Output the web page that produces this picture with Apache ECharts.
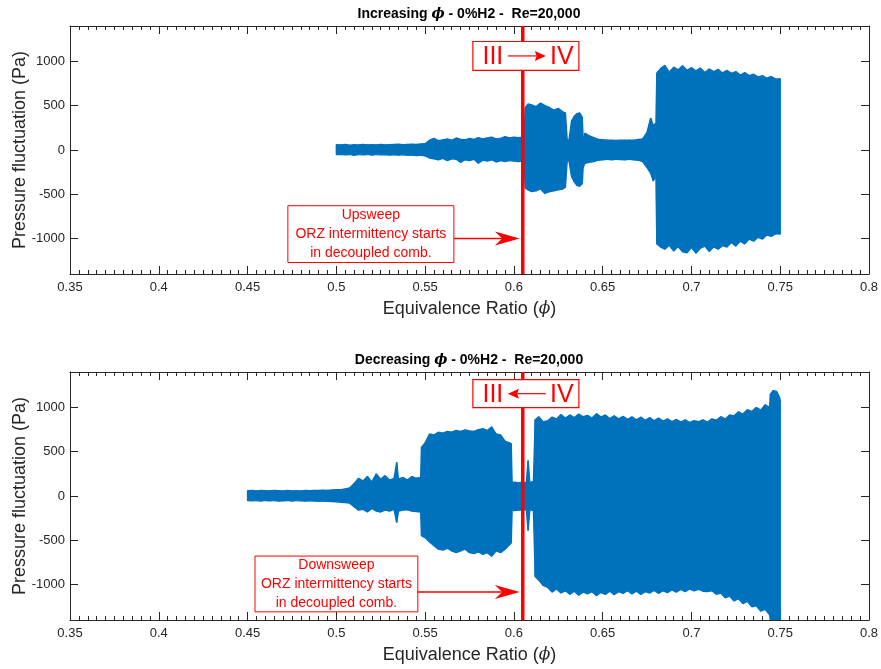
<!DOCTYPE html>
<html><head><meta charset="utf-8">
<script src="https://cdn.jsdelivr.net/npm/echarts@6/dist/echarts.min.js"></script>
<style>html,body{margin:0;padding:0;background:#fff}#c{width:881px;height:669px}</style>
</head><body><div id="c"></div>
<script>
// ---------------- DATA (envelope of the pressure signal) ----------------
const phiUp = [0.500,0.5025,0.505,0.5075,0.510,0.5125,0.515,0.5175,0.520,0.5225,0.525,0.5275,0.530,0.5325,0.535,0.5375,0.540,0.5425,0.545,0.5475,0.550,0.5525,0.555,0.5575,0.560,0.5625,0.565,0.5675,0.570,0.5725,0.575,0.5775,0.580,0.5825,0.585,0.5875,0.590,0.5925,0.595,0.5975,0.600,0.6025,0.605,0.6055,0.6065,0.608,0.610,0.6125,0.615,0.6175,0.620,0.6225,0.625,0.6275,0.629,0.630,0.631,0.6325,0.634,0.6355,0.637,0.6385,0.639,0.640,0.6425,0.645,0.6475,0.650,0.6525,0.655,0.6575,0.660,0.6625,0.665,0.6675,0.670,0.6725,0.675,0.677,0.6785,0.680,0.6805,0.683,0.685,0.6875,0.690,0.6925,0.695,0.6975,0.700,0.7025,0.705,0.7075,0.710,0.7125,0.715,0.7175,0.720,0.7225,0.725,0.7275,0.730,0.7325,0.735,0.7375,0.740,0.7425,0.745,0.7475,0.750];
const upHigh = [60,58,62,55,60,57,62,58,60,56,63,58,60,62,65,60,64,66,62,68,70,110,130,105,115,125,110,135,120,115,130,120,140,125,135,145,125,130,150,135,145,140,145,140,480,520,510,490,530,500,480,450,470,430,420,120,110,330,380,410,420,370,120,190,160,140,120,115,112,110,108,112,110,112,110,118,125,200,360,280,300,870,925,955,880,935,905,950,900,930,895,925,875,915,885,910,870,900,865,885,845,875,840,855,825,840,810,830,800,805];
const upLow  = [-50,-52,-55,-50,-60,-52,-55,-50,-58,-52,-55,-53,-56,-55,-58,-55,-60,-58,-62,-60,-65,-90,-100,-110,-95,-120,-100,-105,-140,-110,-120,-105,-150,-115,-125,-110,-135,-120,-130,-120,-125,-130,-125,-120,-430,-450,-470,-460,-440,-490,-470,-460,-450,-440,-420,-130,-120,-300,-360,-400,-410,-380,-200,-150,-140,-130,-115,-110,-105,-110,-105,-108,-110,-105,-112,-115,-130,-200,-260,-350,-300,-1060,-1100,-1120,-1075,-1140,-1090,-1150,-1160,-1100,-1165,-1110,-1085,-1145,-1095,-1120,-1080,-1095,-1045,-1085,-1030,-1060,-1005,-1030,-985,-1005,-960,-975,-945,-950];

const phiDown = [0.450,0.4525,0.455,0.4575,0.460,0.4625,0.465,0.4675,0.470,0.4725,0.475,0.4775,0.480,0.4825,0.485,0.4875,0.490,0.4925,0.495,0.4975,0.500,0.5025,0.505,0.5075,0.510,0.5125,0.515,0.5175,0.520,0.5225,0.525,0.5275,0.530,0.5325,0.534,0.535,0.5375,0.540,0.5425,0.545,0.5475,0.548,0.550,0.5525,0.555,0.5575,0.560,0.5625,0.565,0.5675,0.570,0.5725,0.575,0.5775,0.580,0.5825,0.585,0.5875,0.590,0.5925,0.595,0.5975,0.5985,0.599,0.600,0.6025,0.605,0.607,0.608,0.609,0.610,0.611,0.612,0.614,0.6165,0.619,0.6215,0.624,0.6265,0.629,0.6315,0.634,0.6365,0.639,0.6415,0.644,0.6465,0.649,0.6515,0.654,0.6565,0.659,0.6615,0.664,0.6665,0.669,0.6715,0.674,0.6765,0.679,0.6815,0.684,0.6865,0.689,0.6915,0.694,0.6965,0.699,0.7015,0.704,0.7065,0.709,0.7115,0.714,0.7165,0.719,0.7215,0.724,0.7265,0.729,0.7315,0.734,0.7365,0.739,0.7415,0.744,0.7445,0.746,0.748,0.7495,0.750];
const dnHigh = [60,62,58,63,60,58,62,60,56,62,58,60,57,62,60,64,62,66,64,68,70,72,80,90,140,200,170,220,160,250,190,230,180,200,380,190,210,180,220,200,210,550,600,700,690,720,710,730,720,740,730,745,735,730,750,760,740,780,700,690,620,600,590,150,155,150,155,150,400,150,160,160,860,895,835,850,890,870,920,880,915,885,925,895,910,880,930,890,915,875,905,870,900,865,895,860,890,855,885,850,880,845,870,840,865,835,860,830,850,840,860,835,870,855,895,870,915,905,950,925,975,955,1000,970,1030,1000,1150,1190,1180,1120,1080];
const dnLow  = [-50,-55,-52,-56,-50,-55,-52,-58,-54,-50,-56,-52,-55,-58,-54,-56,-60,-58,-60,-62,-65,-70,-75,-80,-120,-160,-150,-180,-140,-170,-180,-160,-170,-150,-300,-170,-160,-155,-170,-175,-180,-450,-470,-520,-560,-600,-610,-590,-620,-640,-620,-600,-640,-650,-630,-660,-640,-680,-620,-640,-600,-550,-530,-160,-165,-160,-160,-155,-390,-155,-160,-165,-910,-950,-1010,-1030,-1085,-1050,-1095,-1070,-1110,-1075,-1120,-1085,-1105,-1080,-1125,-1090,-1110,-1075,-1115,-1080,-1100,-1070,-1105,-1075,-1110,-1080,-1095,-1065,-1100,-1070,-1090,-1060,-1085,-1055,-1080,-1050,-1070,-1055,-1075,-1080,-1070,-1110,-1095,-1150,-1130,-1185,-1160,-1215,-1190,-1250,-1240,-1300,-1280,-1340,-1400,-1400,-1400,-1400,-1400];

const xTickValues = [0.35,0.4,0.45,0.5,0.55,0.6,0.65,0.7,0.75,0.8];
const yTickValues = [-1000,-500,0,500,1000];
const transitionPhi = 0.605;
const titles = ['Increasing', 'Decreasing'];
const sweepNames = ['Upsweep', 'Downsweep'];

// ---------------- STYLE ----------------
const FONT = '"Liberation Sans", Arial, Helvetica, sans-serif';
const AX = '#262626';
const BLUE = '#0072BD';
const RED = '#FF0000';

const grids = [
  {left: 70, right: 12, top: 26, height: 248, outerBoundsMode: 'none', containLabel: false},
  {left: 70, right: 12, top: 372, height: 248, outerBoundsMode: 'none', containLabel: false}
];

function xAxes(gi) {
  const common = {
    type: 'value', gridIndex: gi, min: 0.35, max: 0.8, interval: 0.05,
    axisLine: {show: true, onZero: false, lineStyle: {color: AX, width: 1}},
    axisTick: {show: true, inside: true, length: 8, lineStyle: {color: AX}},
    minorTick: {show: true, splitNumber: 10, length: 4, lineStyle: {color: AX}},
    splitLine: {show: false}, minorSplitLine: {show: false}
  };
  return [
    Object.assign({}, common, {
      position: 'bottom',
      axisLabel: {show: true, margin: 7, color: AX, fontFamily: FONT, fontSize: 13,
        customValues: xTickValues, formatter: v => String(+(+v).toFixed(2))},
      name: '{a|Equivalence Ratio (}{i|ϕ}{a|)}', nameLocation: 'middle', nameGap: 26, nameMoveOverlap: false,
      nameTextStyle: {rich: {
        a: {fontFamily: FONT, fontSize: 18, color: AX},
        i: {fontFamily: '"DejaVu Serif", serif', fontStyle: 'italic', fontSize: 17, color: AX}
      }}
    }),
    Object.assign({}, common, {position: 'top', axisLabel: {show: false}})
  ];
}
function yAxes(gi) {
  const common = {
    type: 'value', gridIndex: gi, min: -1400, max: 1400,
    axisLine: {show: true, onZero: false, lineStyle: {color: AX, width: 1}},
    axisTick: {show: true, inside: true, length: 8, lineStyle: {color: AX}, customValues: yTickValues},
    splitLine: {show: false}
  };
  return [
    Object.assign({}, common, {
      position: 'left',
      axisLabel: {show: true, margin: 5, color: AX, fontFamily: FONT, fontSize: 13, customValues: yTickValues,
        formatter: v => String(v)},
      name: 'Pressure fluctuation (Pa)', nameLocation: 'middle', nameGap: 41, nameMoveOverlap: false,
      nameTextStyle: {fontFamily: FONT, fontSize: 18, color: AX}
    }),
    Object.assign({}, common, {position: 'right', axisLabel: {show: false}})
  ];
}

// Envelope drawn as a filled band: one quadrilateral between consecutive samples
function envelopeSeries(gi, phi, hi, lo) {
  const axIdx = gi * 2;
  return {
    type: 'custom', xAxisIndex: axIdx, yAxisIndex: axIdx, silent: true, z: 2, clip: true,
    data: phi.map((x, i) => [x, hi[i], lo[i]]),
    encode: {x: 0, y: [1, 2]},
    renderItem: function (params, api) {
      const i = params.dataIndex;
      if (i >= phi.length - 1) return null;
      const a1 = api.coord([phi[i], hi[i]]), a2 = api.coord([phi[i + 1], hi[i + 1]]);
      const b2 = api.coord([phi[i + 1], lo[i + 1]]), b1 = api.coord([phi[i], lo[i]]);
      return {type: 'polygon', shape: {points: [a1, a2, b2, b1]},
        style: {fill: BLUE, stroke: BLUE, lineWidth: 1.4, lineJoin: 'bevel'}};
    }
  };
}
function boundarySeries(gi) {
  const axIdx = gi * 2;
  return {type: 'line', xAxisIndex: axIdx, yAxisIndex: axIdx, symbol: 'none', silent: true, z: 5,
    data: [[transitionPhi, -1400], [transitionPhi, 1400]], lineStyle: {color: RED, width: 3.5}};
}

const titleRich = {
  b: {fontFamily: FONT, fontSize: 14, fontWeight: 'bold', color: '#000'},
  i: {fontFamily: '"DejaVu Serif", serif', fontStyle: 'italic', fontSize: 14, color: '#000'}
};

const chart = echarts.init(document.getElementById('c'), null, {renderer: 'canvas'});
chart.setOption({
  animation: false,
  backgroundColor: '#fff',
  title: [0, 1].map(gi => ({
    text: '{b|' + titles[gi] + ' }{i|ϕ}{b| - 0%H2 -  Re=20,000}',
    left: 469, textAlign: 'center', top: gi === 0 ? 7 : 353, padding: 0,
    textStyle: {rich: titleRich}
  })),
  grid: grids,
  xAxis: [...xAxes(0), ...xAxes(1)],
  yAxis: [...yAxes(0), ...yAxes(1)],
  series: [
    envelopeSeries(0, phiUp, upHigh, upLow), boundarySeries(0),
    envelopeSeries(1, phiDown, dnHigh, dnLow), boundarySeries(1)
  ]
});

// ---------------- ANNOTATIONS (placed in data coordinates) ----------------
const regimeBox = [{x0: 0.5769, x1: 0.6366, y0: 1225, y1: 899, dir: 1},
                   {x0: 0.5769, x1: 0.6366, y0: 1313, y1: 998, dir: -1}];
const noteBox = [{x0: 0.4727, x1: 0.5662, y0: -629, y1: -1270, arrowY: -1000},
                 {x0: 0.4542, x1: 0.5459, y0: -678, y1: -1308, arrowY: -1083}];

function px(gi, x, y) { return chart.convertToPixel({gridIndex: gi}, [x, y]); }

function arrowShape(p0, p1, headLen, headHalf, lw, notch) {
  const dir = Math.sign(p1[0] - p0[0]);
  const baseX = p1[0] - dir * headLen;
  const nx = baseX + dir * headLen * notch;
  return [
    {type: 'line', z: 110, shape: {x1: p0[0], y1: p0[1], x2: nx, y2: p1[1]}, style: {stroke: RED, lineWidth: lw}},
    {type: 'polygon', z: 110, shape: {points: [[p1[0], p1[1]], [baseX, p1[1] - headHalf], [nx, p1[1]], [baseX, p1[1] + headHalf]]},
     style: {fill: RED}}
  ];
}

const graphics = [];
[0, 1].forEach(gi => {
  const rb = regimeBox[gi];
  const a = px(gi, rb.x0, rb.y0), b = px(gi, rb.x1, rb.y1);
  graphics.push({type: 'rect', z: 100, shape: {x: a[0], y: a[1], width: b[0] - a[0], height: b[1] - a[1]},
    style: {fill: '#fff', stroke: RED, lineWidth: 1.2}});
  const cy = (a[1] + b[1]) / 2;
  graphics.push({type: 'text', z: 110, style: {text: 'III', x: a[0] + 20, y: cy + 1, textAlign: 'center', textVerticalAlign: 'middle',
    fill: RED, font: '25px ' + FONT}});
  graphics.push({type: 'text', z: 110, style: {text: 'IV', x: a[0] + 89, y: cy + 1, textAlign: 'center', textVerticalAlign: 'middle',
    fill: RED, font: '25px ' + FONT}});
  const ax0 = a[0] + 35, ax1 = a[0] + 73;
  if (rb.dir > 0) graphics.push(...arrowShape([ax0, cy], [ax1, cy], 11, 5, 1.2, 0.15));
  else graphics.push(...arrowShape([ax1, cy], [ax0, cy], 11, 5, 1.2, 0.15));

  const nb = noteBox[gi];
  const c = px(gi, nb.x0, nb.y0), d = px(gi, nb.x1, nb.y1);
  graphics.push({type: 'rect', z: 100, shape: {x: c[0], y: c[1], width: d[0] - c[0], height: d[1] - c[1]},
    style: {fill: '#fff', stroke: RED, lineWidth: 1}});
  graphics.push({type: 'text', z: 110, style: {
    text: sweepNames[gi] + '\nORZ intermittency starts\nin decoupled comb.',
    x: (c[0] + d[0]) / 2, y: (c[1] + d[1]) / 2, textAlign: 'center', textVerticalAlign: 'middle',
    fill: RED, font: '14px ' + FONT, lineHeight: 19}});
  const tip = px(gi, transitionPhi, nb.arrowY);
  graphics.push(...arrowShape([d[0], tip[1]], [tip[0] - 3, tip[1]], 25, 7, 1.5, 0.3));
});
chart.setOption({graphic: graphics});
</script></body></html>
